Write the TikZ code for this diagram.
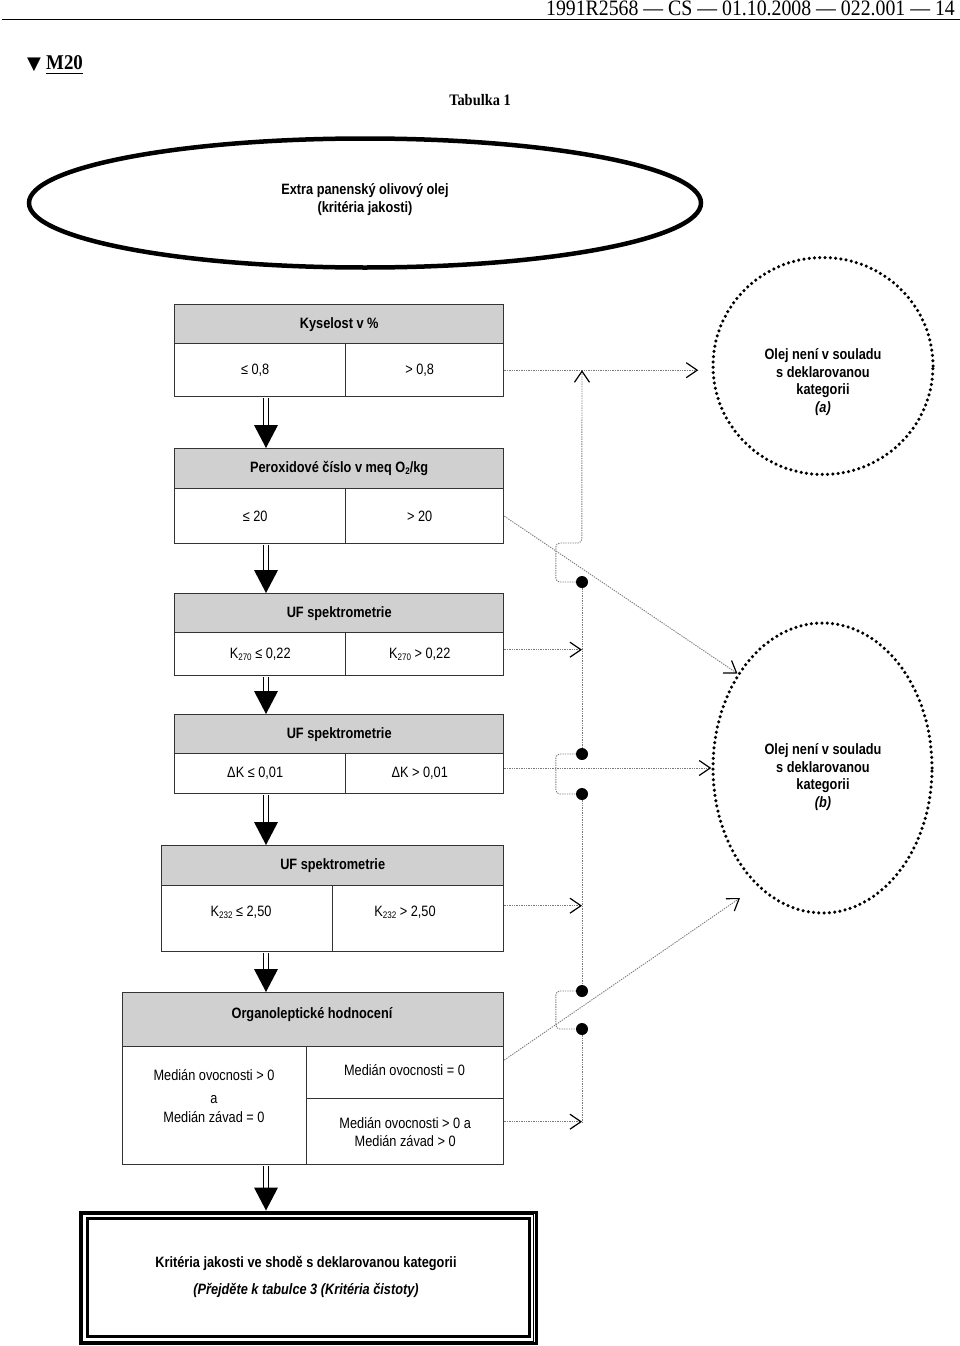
\documentclass[tikz,border=0pt]{standalone}
\usepackage{fontspec}
\setmainfont{Liberation Serif}
\newfontfamily\nar[FakeStretch=0.85]{Liberation Sans}
\newfontfamily\hser[FakeStretch=0.9]{Liberation Serif}
\newfontfamily\djv{DejaVu Sans}
\usetikzlibrary{shapes.geometric,arrows.meta,calc}
\definecolor{hgray}{HTML}{D0D0D0}
\definecolor{lcol}{HTML}{333333}
\definecolor{ccol}{HTML}{7A7A7A}
\newcommand\subsc[1]{\raisebox{-2pt}{\fontsize{9.5}{9.5}\selectfont #1}}
\newcommand\lsh[1]{#1\hspace*{10pt}}
\newcommand\flowdown[2]{%
  \draw[dbl] ($(ax |- #1.south)+(0,0.8)$) -- ($(ax |- #2.north)+(0,-21)$);
  \fill[black] (ax |- #2.north) -- ++(-12,-23) -- ++(24,0) -- cycle;}
\begin{document}
\begin{tikzpicture}[x=1pt,y=-1pt,
  hdr/.style={draw=lcol, line width=1.4pt, fill=hgray, inner sep=0pt, anchor=north west,
    font=\nar\bfseries\fontsize{15}{18}\selectfont},
  cellbox/.style={draw=lcol, line width=1.4pt, fill=white, inner sep=0pt, anchor=north west,
    align=center, font=\nar\fontsize{15}{18}\selectfont},
  txt/.style={inner sep=0pt, align=center, font=\nar\fontsize{15}{18}\selectfont},
  btxt/.style={inner sep=0pt, align=center, font=\nar\bfseries\fontsize{15}{18}\selectfont},
  conn/.style={draw=ccol, line width=0.9pt, dash pattern=on 1.3pt off 1.1pt},
  tipv/.style={-{Straight Barb[length=11pt,width=15pt,line width=1.2pt,color=black]}},
  dotn/.style={circle, fill=black, inner sep=0pt, minimum size=12pt},
  dbl/.style={draw=black, line width=1.3pt, double=white, double distance=3.2pt},
  dotring/.style={ellipse, draw=black, line width=3.5pt, dash pattern=on 0pt off 5.3pt,
    line cap=round, inner sep=0pt}]
\useasboundingbox (0,0) rectangle (960,1346);
\fill[white] (0,0) rectangle (960,1346);

% page header
\node[anchor=base east, inner sep=0pt, font=\hser\fontsize{22}{22}\selectfont] (hd) at (955,16)
  {1991R2568 — CS — 01.10.2008 — 022.001 — 14};
\draw[line width=1pt] (2,20) -- (960,20);
\node[anchor=base west, inner sep=0pt, font=\djv\fontsize{18}{18}\selectfont] (tri) at (27,70) {▼};
\node[anchor=base west, inner sep=0pt, font=\hser\bfseries\fontsize{21}{21}\selectfont] (m20) at (46,70) {M20};
\draw[line width=1.8pt] ($(m20.base west)+(0,3.5)$) -- ($(m20.base east)+(0,3.5)$);
\node[inner sep=0pt, font=\hser\bfseries\fontsize{16}{16}\selectfont] (tab) at (480,100) {Tabulka 1};

% start ellipse
\node[ellipse, draw=black, line width=4.5pt, minimum width=672pt, minimum height=129pt] (ev) at (365,203) {};
\node[btxt] (evt) at (365,200) {Extra panenský olivový olej\\(kritéria jakosti)};

\coordinate (ax) at (266,0);

% box 1
\node[hdr, minimum width=329pt, minimum height=39pt] (k1h) at (174,304) {Kyselost v \%};
\node[cellbox, minimum width=171pt, minimum height=53pt] (k1l) at (174,343) {\lsh{≤ 0,8}};
\node[cellbox, minimum width=158pt, minimum height=53pt] (k1r) at (345,343) {\lsh{> 0,8}};
% box 2
\node[hdr, minimum width=329pt, minimum height=40pt] (k2h) at (174,448) {Peroxidové číslo v meq O\subsc{2}/kg};
\node[cellbox, minimum width=171pt, minimum height=55pt] (k2l) at (174,488) {\lsh{≤ 20}};
\node[cellbox, minimum width=158pt, minimum height=55pt] (k2r) at (345,488) {\lsh{> 20}};
% box 3
\node[hdr, minimum width=329pt, minimum height=39pt] (k3h) at (174,593) {UF spektrometrie};
\node[cellbox, minimum width=171pt, minimum height=43pt] (k3l) at (174,632) {K\subsc{270} ≤ 0,22};
\node[cellbox, minimum width=158pt, minimum height=43pt] (k3r) at (345,632) {\lsh{K\subsc{270} > 0,22}};
% box 4
\node[hdr, minimum width=329pt, minimum height=39pt] (k4h) at (174,714) {UF spektrometrie};
\node[cellbox, minimum width=171pt, minimum height=40pt] (k4l) at (174,753) {\lsh{ΔK ≤ 0,01}};
\node[cellbox, minimum width=158pt, minimum height=40pt] (k4r) at (345,753) {\lsh{ΔK > 0,01}};
% box 5
\node[hdr, minimum width=342pt, minimum height=40pt] (k5h) at (161,845) {UF spektrometrie};
\node[cellbox, minimum width=171pt, minimum height=66pt] (k5l) at (161,885) {};
\node[cellbox, minimum width=171pt, minimum height=66pt] (k5r) at (332,885) {};
\node[txt] (k5lt) at (241,912) {K\subsc{232} ≤ 2,50};
\node[txt] (k5rt) at (405,912) {K\subsc{232} > 2,50};
% box 6
\node[hdr, minimum width=381pt, minimum height=54pt] (k6h) at (122,992) {};
\node[btxt] (k6ht) at (312,1015) {Organoleptické hodnocení};
\node[cellbox, minimum width=184pt, minimum height=118pt] (k6l) at (122,1046) {};
\node[cellbox, minimum width=197pt, minimum height=52pt] (k6a) at (306,1046) {};
\node[txt] (k6at) at (404.5,1070) {Medián ovocnosti = 0};
\node[cellbox, minimum width=197pt, minimum height=66pt] (k6b) at (306,1098) {Medián ovocnosti > 0 a\\Medián závad > 0};
\node[txt, anchor=base] (k6l1) at (214,1080) {Medián ovocnosti > 0};
\node[txt, anchor=base] (k6l2) at (214,1103.5) {a};
\node[txt, anchor=base] (k6l3) at (214,1122) {Medián závad = 0};

% final box
\node[draw=black, line width=3pt, minimum width=456pt, minimum height=131pt, anchor=north west, inner sep=0pt] (fin) at (78.5,1210.5) {};
\draw[line width=1pt] ($(fin.north west)+(4,3.5)$) rectangle ($(fin.south east)+(-4,-3.5)$);
\draw[line width=3pt] ($(fin.north west)+(8.5,8)$) rectangle ($(fin.south east)+(-8.5,-8)$);
\node[btxt] (fint1) at (306,1263) {Kritéria jakosti ve shodě s deklarovanou kategorii};
\node[btxt] (fint2) at (306,1290) {\itshape (Přejděte k tabulce 3 (Kritéria čistoty)};

% flow arrows
\flowdown{k1l}{k2h}
\flowdown{k2l}{k3h}
\flowdown{k3l}{k4h}
\flowdown{k4l}{k5h}
\flowdown{k5l}{k6h}
\flowdown{k6l}{fin}

% outcome circles
\node[dotring, minimum width=220pt, minimum height=217pt] (ca) at (823,366) {};
\node[btxt, font=\nar\bfseries\fontsize{15}{17.7}\selectfont] (cat) at (823,382)
  {Olej není v souladu\\s deklarovanou\\kategorii\\\textit{(a)}};
\node[dotring, minimum width=219pt, minimum height=290pt] (cb) at (822.5,768) {};
\node[btxt, font=\nar\bfseries\fontsize{15}{17.7}\selectfont] (cbt) at (823,777)
  {Olej není v souladu\\s deklarovanou\\kategorii\\\textit{(b)}};

% junction dots
\node[dotn] (d1) at (582,582) {};
\node[dotn] (d2) at (582,754) {};
\node[dotn] (d3) at (582,794) {};
\node[dotn] (d4) at (582,991) {};
\node[dotn] (d5) at (582,1029) {};

% connectors
\draw[conn, tipv, shorten >=13pt] (k1r.east) -- (k1r.east -| ca.west);
\draw[conn, tipv, rounded corners=4pt] (d1.west) -- ++(-20,0) -- ++(0,-39) -- ++(26,0) -- (d1 |- k1r.east);
\draw[conn, tipv] (k2r.east) -- (cb.132);
\coordinate (s3) at ($(k3r.east)+(0,-4.5)$);
\draw[conn, tipv] (s3) -- (s3 -| d1);
\draw[conn] (d1) -- (d2);
\draw[conn, rounded corners=4pt] (d2.west) -- ++(-20,0) -- ++(0,40) -- (d3.west);
\draw[conn, tipv] (k4r.east |- cb.west) -- (cb.west);
\draw[conn] (d3) -- (d4);
\coordinate (s5) at ($(k5r.east)+(0,-13)$);
\draw[conn, tipv] (s5) -- (s5 -| d3);
\draw[conn, rounded corners=4pt] (d4.west) -- ++(-20,0) -- ++(0,38) -- (d5.west);
\coordinate (s6) at ($(k6a.north east)+(0,14)$);
\coordinate (t6) at (740,898);
\draw[conn, tipv] (s6) -- (t6);
\coordinate (s7) at ($(k6b.east)+(0,-10)$);
\draw[conn] (d5) -- (s7 -| d5);
\draw[conn, tipv] (s7) -- (s7 -| d5);
\end{tikzpicture}
\end{document}
